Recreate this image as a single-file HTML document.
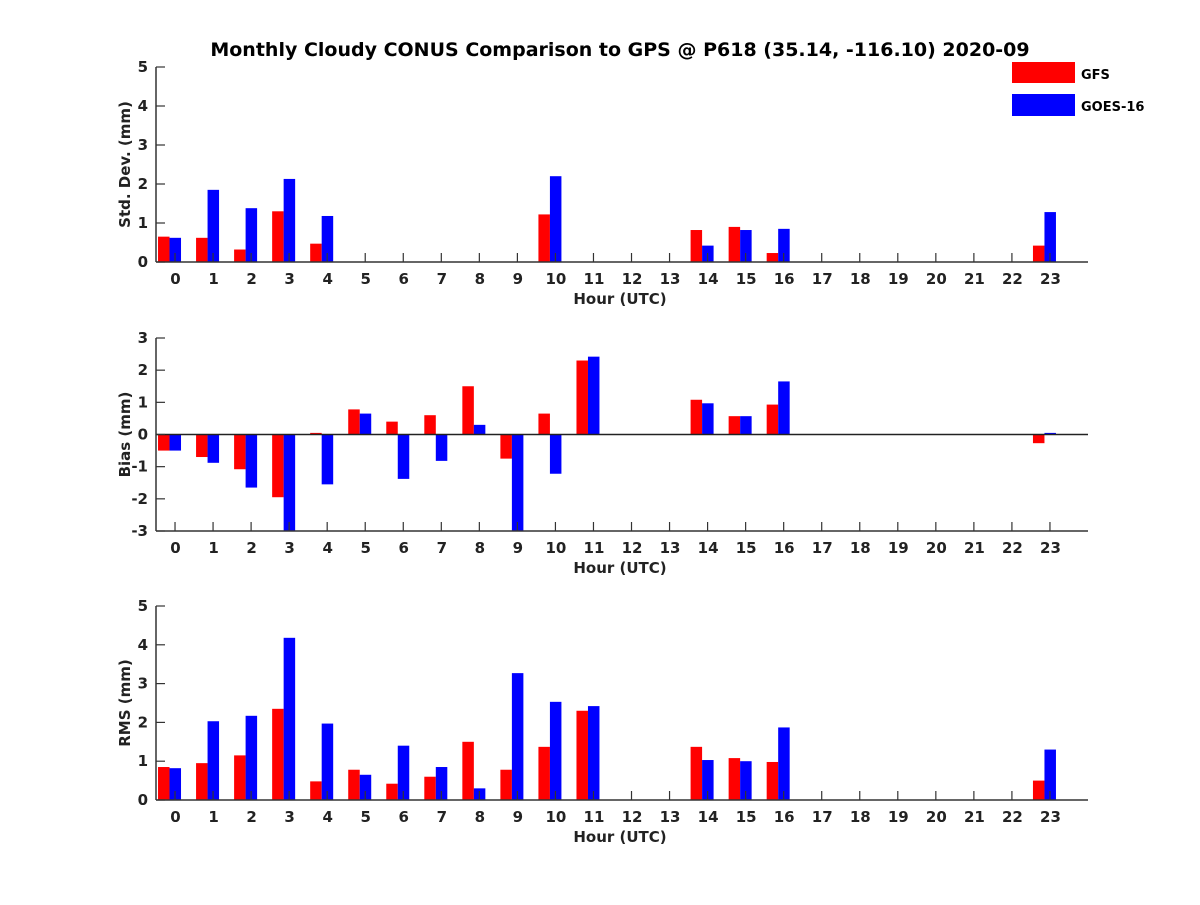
<!DOCTYPE html>
<html><head><meta charset="utf-8"><style>
body{margin:0;background:#fff}
svg text{font-family:"DejaVu Sans","Liberation Sans",sans-serif;font-weight:bold;fill:#222}
</style></head><body>
<svg id="chart" width="1200" height="900" xmlns="http://www.w3.org/2000/svg">
<text x="620" y="56" text-anchor="middle" font-size="19" style="fill:#000">Monthly Cloudy CONUS Comparison to GPS @ P618 (35.14, -116.10) 2020-09</text>
<g>
<rect x="1012" y="62" width="63" height="21" fill="#ff0000"/>
<text x="1081" y="79" font-size="13" style="fill:#000">GFS</text>
<rect x="1012" y="94" width="63" height="22" fill="#0000ff"/>
<text x="1081" y="111" font-size="13" style="fill:#000">GOES-16</text>
</g>
</svg>
<script>
const hours = [0,1,2,3,4,5,6,7,8,9,10,11,12,13,14,15,16,17,18,19,20,21,22,23];
const stdGFS  = [0.65,0.62,0.32,1.3,0.47,null,null,null,null,null,1.22,null,null,null,0.82,0.9,0.23,null,null,null,null,null,null,0.42];
const stdGOES = [0.62,1.85,1.38,2.13,1.18,null,null,null,null,null,2.2,null,null,null,0.42,0.82,0.85,null,null,null,null,null,null,1.28];
const biasGFS  = [-0.5,-0.7,-1.08,-1.95,0.05,0.78,0.4,0.6,1.5,-0.75,0.65,2.3,null,null,1.08,0.57,0.93,null,null,null,null,null,null,-0.27];
const biasGOES = [-0.5,-0.88,-1.65,-3.3,-1.55,0.65,-1.38,-0.82,0.3,-3.3,-1.22,2.42,null,null,0.97,0.57,1.65,null,null,null,null,null,null,0.05];
const rmsGFS  = [0.85,0.95,1.15,2.35,0.48,0.78,0.42,0.6,1.5,0.78,1.37,2.3,null,null,1.37,1.08,0.98,null,null,null,null,null,null,0.5];
const rmsGOES = [0.82,2.03,2.17,4.18,1.97,0.65,1.4,0.85,0.3,3.27,2.53,2.42,null,null,1.03,1.0,1.87,null,null,null,null,null,null,1.3];
const stdTicks = [0,1,2,3,4,5];
const biasTicks = [-3,-2,-1,0,1,2,3];
const rmsTicks = [0,1,2,3,4,5];

const NS = "http://www.w3.org/2000/svg";
const svg = document.getElementById('chart');
function el(tag, attrs, parent){const e=document.createElementNS(NS,tag);for(const k in attrs)e.setAttribute(k,attrs[k]);(parent||svg).appendChild(e);return e;}
const xL=156, xR=1088, xMin=-0.5, xMax=24;
function xs(v){return xL+(v-xMin)/(xMax-xMin)*(xR-xL);}

function panel(name, yTop, yBot, yMin, yMax, ticks, g1, g2, ylabel){
  const g=el('g',{});
  
  
  const ys=v=>yBot-(v-yMin)/(yMax-yMin)*(yBot-yTop);
  const base=ys(Math.max(0,yMin));
  const clip=v=>Math.max(yMin,Math.min(yMax,v));
  hours.forEach((h,i)=>{
    const c=xs(h);
    if(g1[i]!=null){const y=ys(clip(g1[i]));const r=el('rect',{x:c-17,y:Math.min(y,base),width:11.5,height:Math.abs(base-y),fill:'#ff0000'},g);
      
      }
    if(g2[i]!=null){const y=ys(clip(g2[i]));const r=el('rect',{x:c-5.5,y:Math.min(y,base),width:11.5,height:Math.abs(base-y),fill:'#0000ff'},g);
      
      }
  });
  if(yMin<0) el('line',{x1:xL,x2:xR,y1:base,y2:base,stroke:'#222','stroke-width':1.5},g);
  el('line',{x1:xL,x2:xL,y1:yTop,y2:yBot,stroke:'#333','stroke-width':1.5},g);
  el('line',{x1:xL,x2:xR,y1:yBot,y2:yBot,stroke:'#333','stroke-width':1.5},g);
  ticks.forEach(t=>{const y=ys(t);
    el('line',{x1:xL,x2:xL+9,y1:y,y2:y,stroke:'#333','stroke-width':1.2},g);
    const tx=el('text',{x:148,y:y+5,'text-anchor':'end','font-size':15},g);tx.textContent=t;
    
    });
  hours.forEach(h=>{const x=xs(h);
    el('line',{x1:x,x2:x,y1:yBot,y2:yBot-9,stroke:'#333','stroke-width':1.2},g);
    const tx=el('text',{x:x+0.5,y:yBot+22,'text-anchor':'middle','font-size':15},g);tx.textContent=h;
    
    });
  const xl=el('text',{x:620,y:yBot+42,'text-anchor':'middle','font-size':15},g);xl.textContent='Hour (UTC)';
  
  
  const cy=(yTop+yBot)/2;
  const yl=el('text',{x:130,y:cy,'text-anchor':'middle','font-size':15,transform:'rotate(-90 130 '+cy+')'},g);yl.textContent=ylabel;
  
  
}
panel('std',67,262,0,5,stdTicks,stdGFS,stdGOES,'Std. Dev. (mm)');
panel('bias',338,531,-3,3,biasTicks,biasGFS,biasGOES,'Bias (mm)');
panel('rms',606,800,0,5,rmsTicks,rmsGFS,rmsGOES,'RMS (mm)');
</script>
</body></html>
